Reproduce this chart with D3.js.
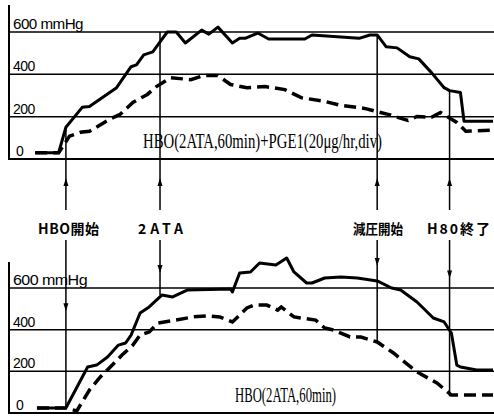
<!DOCTYPE html>
<html>
<head>
<meta charset="utf-8">
<script src="https://cdn.jsdelivr.net/npm/d3@7/dist/d3.min.js"></script>
<style>
  body { margin: 0; background: #fff; }
  svg { display: block; }
</style>
</head>
<body>
<div id="chart"></div>
<script>
// time = minutes from HBO start, value = pO2 (mmHg)
var yTicks = [0, 200, 400, 600];
var yTickLabels = ["0", "200", "400", "600 mmHg"];

var eventNames = ["HBO開始", "2ATA", "減圧開始", "H80終了"];
var eventTimes = [0, 26, 86, 106];
var eventTopFrom = [150, 600, 586, 323];   // where the line leaves the upper chart
var eventBottomTo = [24, 566, 341, 80];   // where the line ends in the lower chart
var eventArrowBottom = [512, 696, 730, 670];

var topTitle = "HBO(2ATA,60min)+PGE1(20μg/hr,div)";
var bottomTitle = "HBO(2ATA,60min)";

// upper chart, HBO + PGE1
var topSolidT = [-8.5, -2, 0, 4.5, 6.5, 14, 18, 19.5, 21.5, 24, 26, 28, 30.5, 33, 37.5, 39.5, 42, 46, 48, 49.5, 53, 56, 66, 68, 81, 84, 86, 88.5, 91.5, 95, 97.5, 101, 104.5, 106, 109, 110, 118];
var topSolidV = [30, 30, 150, 244, 248, 337, 436, 445, 492, 506, 553, 600, 600, 548, 609, 590, 623, 548, 570, 570, 595, 567, 567, 586, 570, 586, 586, 530, 525, 483, 473, 408, 337, 323, 314, 178, 178];
var topDashT = [-8.5, -2, 1, 4, 6.5, 12, 15, 18.5, 22.5, 25, 29, 34.5, 38, 42, 45.5, 50, 55, 60.5, 65, 71.5, 76, 82.5, 89, 94.5, 97, 101, 103.5, 108, 110.5, 118];
var topDashV = [30, 30, 108, 126, 131, 187, 211, 267, 305, 342, 384, 375, 394, 394, 352, 337, 342, 328, 290, 272, 253, 239, 211, 182, 201, 197, 220, 173, 131, 136];

// lower chart, HBO only
var botSolidT = [-8, 0, 6, 8.5, 11.5, 14.5, 16.5, 18, 20.5, 23, 26.5, 29.5, 33.5, 45.5, 46, 48, 51, 53.5, 58, 61, 63, 66.5, 68, 71.5, 76, 80.5, 86, 90, 92.5, 97, 101.5, 104.5, 106.5, 108, 109, 113.5, 118];
var botSolidV = [24, 24, 221, 230, 269, 326, 336, 374, 480, 509, 566, 557, 590, 595, 581, 672, 677, 720, 710, 744, 677, 624, 624, 648, 653, 648, 634, 600, 590, 533, 456, 437, 384, 230, 221, 206, 206];
var botDashT = [-8, 0, 3, 6.5, 9.5, 12, 15.5, 18.5, 20.5, 23, 25.5, 30.5, 35, 39, 42.5, 46, 50, 52, 55.5, 58.5, 59.5, 63, 69, 71.5, 74, 78.5, 81.5, 86, 90.5, 97, 102.5, 106.5, 110, 118];
var botDashV = [24, 24, 10, 110, 173, 216, 278, 326, 374, 389, 432, 446, 461, 466, 461, 437, 504, 518, 518, 494, 509, 461, 446, 408, 398, 365, 365, 341, 288, 197, 144, 86, 86, 86];

var width = 494, height = 416;

var svg = d3.select("#chart").append("svg")
    .attr("width", width)
    .attr("height", height);

var x = d3.scaleLinear().domain([-16, 118]).range([8, 493]);
var yTop = d3.scaleLinear().domain([0, 600]).range([159, 32]);
var yBot = d3.scaleLinear().domain([0, 600]).range([413, 288]);

function zip(t, v) {
    return t.map(function(d, i) { return {t: d, v: v[i]}; });
}

function drawPanel(y, axisTop, solid, dash, title, titleX, titleW, titleY, labelLen) {
    var g = svg.append("g");

    // horizontal rules
    g.selectAll("line.grid")
        .data(yTicks)
        .enter().append("line")
        .attr("class", "grid")
        .attr("x1", 9).attr("x2", width)
        .attr("y1", function(d) { return y(d); })
        .attr("y2", function(d) { return y(d); })
        .style("stroke", "#000")
        .style("stroke-width", function(d) { return d === 0 ? 2 : 1.5; });

    // left axis
    g.append("line")
        .attr("x1", 9).attr("x2", 9)
        .attr("y1", axisTop).attr("y2", y(0) + 1)
        .style("stroke", "#000")
        .style("stroke-width", 2);

    g.selectAll("text.tick")
        .data(yTicks)
        .enter().append("text")
        .attr("class", "tick")
        .attr("x", function(d) { return d === 0 ? 16 : 13; })
        .attr("y", function(d) { return y(d) - 3; })
        .attr("textLength", function(d, i) { return d === 600 ? labelLen : null; })
        .attr("lengthAdjust", "spacingAndGlyphs")
        .style("font-family", "'Liberation Sans Narrow', 'Liberation Sans', sans-serif")
        .style("font-size", "14px")
        .style("letter-spacing", "-0.5px")
        .text(function(d, i) { return yTickLabels[i]; });

    var line = d3.line()
        .x(function(d) { return x(d.t); })
        .y(function(d) { return y(d.v); });

    g.append("path")
        .datum(solid)
        .attr("d", line)
        .style("fill", "none")
        .style("stroke", "#000")
        .style("stroke-width", 3)
        .style("stroke-linejoin", "round");

    g.append("path")
        .datum(dash)
        .attr("d", line)
        .style("fill", "none")
        .style("stroke", "#000")
        .style("stroke-width", 3.5)
        .style("stroke-dasharray", "12,6");

    g.append("text")
        .attr("x", titleX)
        .attr("y", titleY)
        .attr("textLength", titleW)
        .attr("lengthAdjust", "spacingAndGlyphs")
        .style("font-family", "'Liberation Serif', 'DejaVu Serif', serif")
        .style("font-size", "20px")
        .text(title);
}

drawPanel(yTop, 5, zip(topSolidT, topSolidV), zip(topDashT, topDashV),
    topTitle, 143, 239, 148, 70);
drawPanel(yBot, 262, zip(botSolidT, botSolidV), zip(botDashT, botDashV),
    bottomTitle, 235, 101, 402, 74);

// event markers running through both charts
var labelX = [38, 138, 353, 427];
var labelW = [61, 45, 50, 63];
var ev = svg.selectAll("g.event")
    .data(eventNames)
    .enter().append("g")
    .attr("class", "event");

ev.append("line")
    .attr("x1", function(d, i) { return x(eventTimes[i]); })
    .attr("x2", function(d, i) { return x(eventTimes[i]); })
    .attr("y1", function(d, i) { return yTop(eventTopFrom[i]); })
    .attr("y2", 210)
    .style("stroke", "#000").style("stroke-width", 1.5);

ev.append("line")
    .attr("x1", function(d, i) { return x(eventTimes[i]); })
    .attr("x2", function(d, i) { return x(eventTimes[i]); })
    .attr("y1", 240)
    .attr("y2", function(d, i) { return yBot(eventBottomTo[i]); })
    .style("stroke", "#000").style("stroke-width", 1.5);

// arrow heads: up on the upper stub, down inside the lower chart
ev.append("path")
    .attr("d", "M0,-5L2.5,3L-2.5,3Z")
    .attr("transform", function(d, i) { return "translate(" + x(eventTimes[i]) + ",183)"; })
    .style("fill", "#000");

ev.append("path")
    .attr("d", "M0,5L2.5,-3L-2.5,-3Z")
    .attr("transform", function(d, i) {
        return "translate(" + x(eventTimes[i]) + "," + yBot(eventArrowBottom[i]) + ")";
    })
    .style("fill", "#000");

ev.append("text")
    .attr("x", function(d, i) { return labelX[i]; })
    .attr("y", 234)
    .style("font-family", "'Noto Sans CJK JP', sans-serif")
    .style("font-weight", "bold")
    .style("font-size", "14px")
    .text(function(d) { return d; })
    .each(function(d, i) {
        // widen with spacing, narrow by squeezing the glyphs
        var w = this.getComputedTextLength();
        d3.select(this)
            .attr("textLength", labelW[i])
            .attr("lengthAdjust", w < labelW[i] ? "spacing" : "spacingAndGlyphs");
    });
</script>
</body>
</html>
